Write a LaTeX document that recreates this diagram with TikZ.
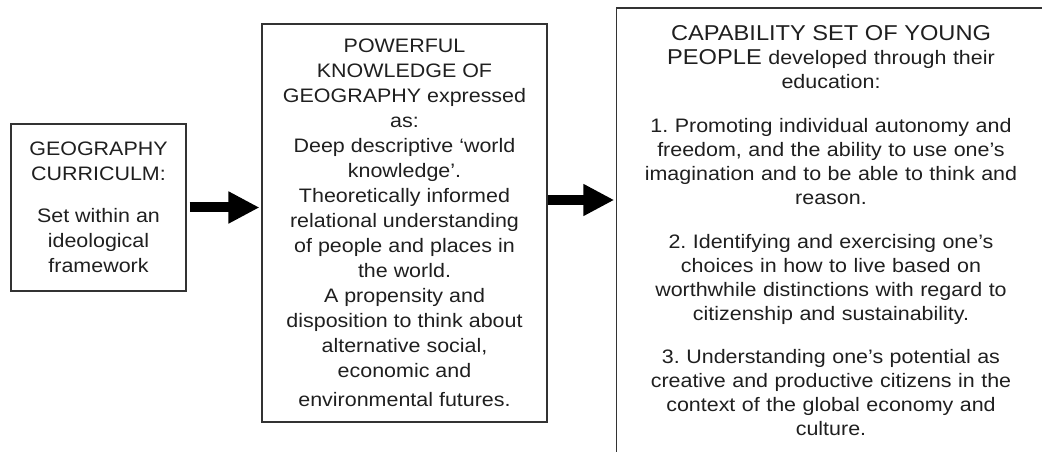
\documentclass[tikz,border=0pt]{standalone}
\usepackage{fontspec}
\setmainfont[FakeStretch=1.1]{Liberation Sans}
\usetikzlibrary{arrows.meta,fit}
\frenchspacing

\newcommand{\bodyfont}{\fontsize{19.5}{25}\selectfont}
\newcommand{\capfont}{\fontsize{19.5}{24}\selectfont}
\newcommand{\headfont}{\fontsize{21.5}{24}\selectfont}
\tikzset{
  box/.style={draw=black!80, line width=1.1pt, align=center, inner sep=0pt, text=black!88, font=\bodyfont},
  bigarrow/.style={line width=10pt, -{Triangle[length=31pt,width=30pt]}},
}

\begin{document}
\begin{tikzpicture}[x=1pt,y=1pt]
\useasboundingbox (0,0) rectangle (1042,452);
\clip (0,0) rectangle (1042,452);
\node[box, minimum width=175pt, minimum height=167pt] (curric) at (98.5,244.5)
  {GEOGRAPHY\\CURRICULM:\\[17pt]Set within an\\ideological\\framework};
\node[box, minimum width=285pt, minimum height=398pt] (know) at (404.5,229)
  {POWERFUL\\KNOWLEDGE OF\\GEOGRAPHY expressed\\as:\\Deep descriptive ‘world\\knowledge’.\\Theoretically informed\\relational understanding\\of people and places in\\the world.\\A propensity and\\disposition to think about\\alternative social,\\economic and\\[4pt]environmental futures.};
\node[align=center, text width=428pt, inner sep=0pt, anchor=north, text=black!88, font=\capfont] (capab) at (831,427)
  {{\headfont CAPABILITY SET OF YOUNG}\\{\headfont PEOPLE} developed through their\\education:\\[20pt]1. Promoting individual autonomy and\\freedom, and the ability to use one’s\\imagination and to be able to think and\\reason.\\[20pt]2. Identifying and exercising one’s\\choices in how to live based on\\worthwhile distinctions with regard to\\citizenship and sustainability.\\[19pt]3. Understanding one’s potential as\\creative and productive citizens in the\\context of the global economy and\\culture.};
\coordinate (capend) at ([yshift=-60pt]capab.south);
\node[box, fit=(capab)(capend), inner xsep=0pt, inner ysep=17pt] (capbox) {};
% arrows between the boxes
\draw[bigarrow, shorten <=3pt, shorten >=2pt] (curric.east) -- (curric.east -| know.west);
\draw[bigarrow, shorten >=2pt] ([yshift=23pt]know.east) -- ([yshift=23pt]know.east -| capbox.west);
\end{tikzpicture}
\end{document}
